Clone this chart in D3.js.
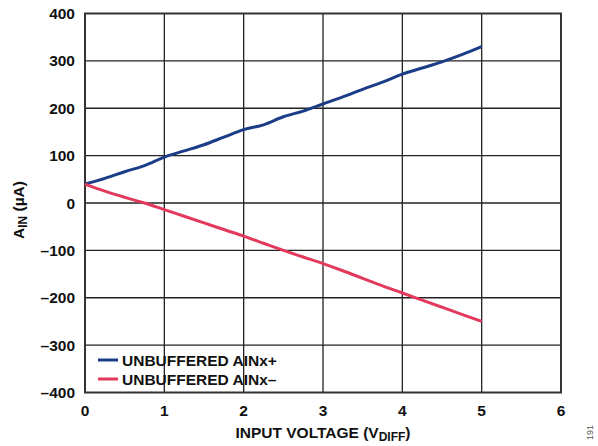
<!DOCTYPE html>
<html>
<head>
<meta charset="utf-8">
<script src="https://cdn.jsdelivr.net/npm/d3@7"></script>
<style>
  body { margin: 0; background: #fff; }
  svg text { font-family: "Liberation Sans", Arial, sans-serif; font-weight: bold; fill: #111; }
</style>
</head>
<body>
<svg width="598" height="446"></svg>
<script>
// x values (V_DIFF)
const volts = [0, 0.25, 0.5, 0.75, 1, 1.25, 1.5, 1.75, 2, 2.25, 2.5, 2.75, 3, 3.25, 3.5, 3.75, 4, 4.25, 4.5, 4.75, 5];
// current in uA
const ainPlus = [40, 52, 66, 79, 97, 110, 123, 139, 155, 165, 182, 194, 209, 224, 240, 255, 272, 285, 298, 313, 330];
const ainMinus = [40, 25, 12, 0, -14, -28, -42, -56, -70, -85, -100, -114, -128, -143, -159, -175, -190, -205, -220, -235, -250];
const seriesNames = ["UNBUFFERED AINx+", "UNBUFFERED AINx\u2013"];
const xTicks = [0, 1, 2, 3, 4, 5, 6];
const yTicks = [-400, -300, -200, -100, 0, 100, 200, 300, 400];

const plot = {left: 85, right: 561, top: 13.5, bottom: 392.5};
const colors = ["#1b3c87", "#e2395d"];
const fs = "15.5px";

const svg = d3.select("svg");

const x = d3.scaleLinear().domain([0, 6]).range([plot.left, plot.right]);
const y = d3.scaleLinear().domain([-400, 400]).range([plot.bottom, plot.top]);

// grid
svg.append("g").selectAll("line").data(xTicks.slice(1, -1)).enter().append("line")
    .attr("x1", d => x(d)).attr("x2", d => x(d))
    .attr("y1", plot.top).attr("y2", plot.bottom)
    .style("stroke", "#222").style("stroke-width", 1.3);
svg.append("g").selectAll("line").data(yTicks.slice(1, -1)).enter().append("line")
    .attr("y1", d => y(d)).attr("y2", d => y(d))
    .attr("x1", plot.left).attr("x2", plot.right)
    .style("stroke", "#222").style("stroke-width", 1.3);

// frame
svg.append("rect")
    .attr("x", plot.left).attr("y", plot.top)
    .attr("width", plot.right - plot.left).attr("height", plot.bottom - plot.top)
    .style("fill", "none").style("stroke", "#333").style("stroke-width", 2);

// tick labels
svg.append("g").selectAll("text").data(yTicks).enter().append("text")
    .attr("x", 75).attr("y", d => y(d) + 5.5)
    .attr("text-anchor", "end").style("font-size", fs)
    .text(d => d < 0 ? "\u2013" + Math.abs(d) : d);
svg.append("g").selectAll("text").data(xTicks).enter().append("text")
    .attr("x", d => x(d)).attr("y", 416)
    .attr("text-anchor", "middle").style("font-size", fs)
    .text(d => d);

// lines
const line = d3.line().x((d, i) => x(volts[i])).y(d => y(d)).curve(d3.curveMonotoneX);
[ainPlus, ainMinus].forEach((s, k) => {
  svg.append("path").datum(s)
      .attr("d", line)
      .style("fill", "none").style("stroke", colors[k])
      .style("stroke-width", 3).style("stroke-linejoin", "round");
});

// legend
const leg = svg.append("g").selectAll("g").data(seriesNames).enter().append("g")
    .attr("transform", (d, i) => "translate(98," + (360 + i * 19) + ")");
leg.append("line").attr("x1", 0).attr("x2", 20).attr("y1", 0).attr("y2", 0)
    .style("stroke", (d, i) => colors[i]).style("stroke-width", 3);
leg.append("text").attr("x", 24).attr("y", 5.5).style("font-size", fs).text(d => d);

// axis titles
const xt = svg.append("text").attr("x", 323).attr("y", 438)
    .attr("text-anchor", "middle").style("font-size", fs);
xt.append("tspan").text("INPUT VOLTAGE (V");
xt.append("tspan").attr("dy", 3).style("font-size", "12px").text("DIFF");
xt.append("tspan").attr("dy", -3).text(")");

const yt = svg.append("text").attr("transform", "translate(24,210) rotate(-90)")
    .attr("text-anchor", "middle").style("font-size", fs);
yt.append("tspan").text("A");
yt.append("tspan").attr("dy", 3).style("font-size", "12px").text("IN");
yt.append("tspan").attr("dy", -3).text(" (\u00b5A)");

svg.append("text").attr("transform", "translate(593,440) rotate(-90)")
    .style("font-size", "9px").style("font-weight", "normal").style("fill", "#555")
    .text("191");
</script>
</body>
</html>
